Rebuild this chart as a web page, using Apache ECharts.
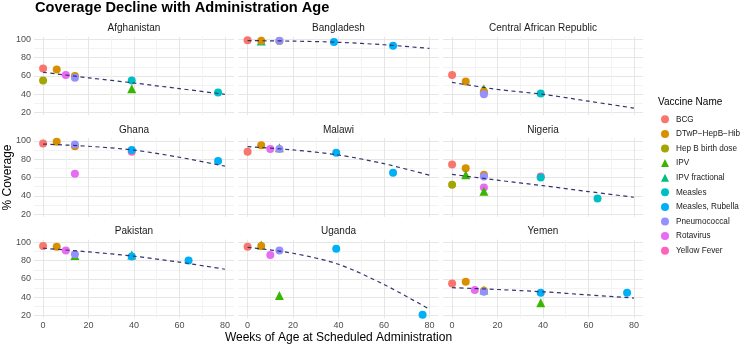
<!DOCTYPE html>
<html>
<head>
<meta charset="utf-8">
<script src="https://cdn.jsdelivr.net/npm/echarts@6/dist/echarts.min.js"></script>
<style>
html, body { margin: 0; padding: 0; background: #fff; }
#chart { width: 744px; height: 346px; }
</style>
</head>
<body>
<div id="chart"></div>
<script>
// facets
const countries = ['Afghanistan', 'Bangladesh', 'Central African Republic', 'Ghana', 'Malawi', 'Nigeria', 'Pakistan', 'Uganda', 'Yemen'];
const vaccines = ['BCG', 'DTwP−HepB−Hib', 'Hep B birth dose', 'IPV', 'IPV fractional', 'Measles', 'Measles, Rubella', 'Pneumococcal', 'Rotavirus', 'Yellow Fever'];
const vaccineColors = ['#F8766D', '#D89000', '#A3A500', '#39B600', '#00BF7D', '#00BFC4', '#00B0F6', '#9590FF', '#E76BF3', '#FF62BC'];
const xTicks = [0, 20, 40, 60, 80];
const yTicks = [20, 40, 60, 80, 100];
const xGrid = [0, 10, 20, 30, 40, 50, 60, 70, 80];
const yGrid = [20, 30, 40, 50, 60, 70, 80, 90, 100];
const trendWeeks = [0, 20, 40, 60, 80];

// [vaccine, weeks, % coverage]
const afghanistan = [
	['Hep B birth dose', 0, 55], ['BCG', 0, 68], ['DTwP−HepB−Hib', 6, 67], ['Rotavirus', 10, 61],
	['DTwP−HepB−Hib', 14, 60], ['Pneumococcal', 14, 58], ['IPV', 39, 46], ['Measles', 39, 55], ['Measles', 77, 42]
];
const bangladesh = [
	['BCG', 0, 99], ['IPV fractional', 6, 98], ['DTwP−HepB−Hib', 6, 98.5], ['DTwP−HepB−Hib', 14, 98],
	['Pneumococcal', 14, 98.5], ['Measles, Rubella', 38, 97], ['Measles, Rubella', 64, 93]
];
const car = [
	['BCG', 0, 61], ['DTwP−HepB−Hib', 6, 54], ['IPV', 14, 46], ['DTwP−HepB−Hib', 14, 43],
	['Pneumococcal', 14, 40], ['Measles', 39, 41]
];
const ghana = [
	['BCG', 0, 97], ['DTwP−HepB−Hib', 6, 99], ['DTwP−HepB−Hib', 14, 94], ['Pneumococcal', 14, 96],
	['Rotavirus', 14, 64], ['Yellow Fever', 39, 88], ['Measles, Rubella', 39, 90], ['Measles, Rubella', 77, 78]
];
const malawi = [
	['BCG', 0, 88], ['DTwP−HepB−Hib', 6, 95], ['Rotavirus', 10, 91], ['IPV', 14, 92.5],
	['Pneumococcal', 14, 91], ['Measles, Rubella', 39, 87], ['Measles, Rubella', 64, 65]
];
const nigeria = [
	['BCG', 0, 74], ['Hep B birth dose', 0, 52], ['DTwP−HepB−Hib', 6, 70], ['IPV', 6, 63],
	['DTwP−HepB−Hib', 14, 63], ['Pneumococcal', 14, 61], ['Rotavirus', 14, 49], ['IPV', 14, 45],
	['Yellow Fever', 39, 61], ['Measles', 39, 60], ['Measles', 64, 37]
];
const pakistan = [
	['BCG', 0, 96], ['DTwP−HepB−Hib', 6, 95], ['Rotavirus', 10, 91], ['IPV', 14, 85.5],
	['Pneumococcal', 14, 87], ['IPV', 39, 86], ['Measles, Rubella', 39, 84.5], ['Measles, Rubella', 64, 80]
];
const uganda = [
	['BCG', 0, 95], ['IPV', 6, 97], ['DTwP−HepB−Hib', 6, 96], ['Rotavirus', 10, 86],
	['Pneumococcal', 14, 91], ['IPV', 14, 42], ['Measles, Rubella', 39, 93], ['Measles, Rubella', 77, 21]
];
const yemen = [
	['BCG', 0, 55], ['DTwP−HepB−Hib', 6, 57], ['Rotavirus', 10, 48], ['IPV', 14, 48],
	['DTwP−HepB−Hib', 14, 47], ['Pneumococcal', 14, 46], ['IPV', 39, 34],
	['Measles, Rubella', 39, 45], ['Measles, Rubella', 77, 45]
];

// fitted trend read at trendWeeks
const trendAfghanistan = [64, 58, 52.3, 46.2, 40];
const trendBangladesh = [98.5, 98, 96.7, 94, 90];
const trendCar = [53, 45.3, 40, 32.5, 25];
const trendGhana = [96.4, 94, 89.8, 82, 72.3];
const trendMalawi = [93.5, 90, 84.5, 75, 62.5];
const trendNigeria = [63.4, 57, 51, 44.6, 38.4];
const trendPakistan = [93.5, 89.5, 84.8, 78.3, 70.6];
const trendUganda = [94.5, 88, 76, 54, 27];
const trendYemen = [50.5, 48.5, 46, 42.6, 39.2];

const allPoints = [afghanistan, bangladesh, car, ghana, malawi, nigeria, pakistan, uganda, yemen];
const allTrends = [trendAfghanistan, trendBangladesh, trendCar, trendGhana, trendMalawi, trendNigeria, trendPakistan, trendUganda, trendYemen];

// 面板布局
const colLeft = [34, 238.5, 443];
const rowTop = [36.6, 138.1, 239.6];
const panelW = 200;
const panelH = 78.7;
const font = 'Liberation Sans, Arial, sans-serif';

const grids = [], xAxes = [], yAxes = [], series = [], graphics = [];

countries.forEach((name, i) => {
	const col = i % 3;
	const row = Math.floor(i / 3);
	grids.push({ left: colLeft[col], top: rowTop[row], width: panelW, height: panelH });
	xAxes.push({
		gridIndex: i, type: 'value', min: -4, max: 84,
		axisLine: { show: false },
		axisTick: { show: false, customValues: xGrid },
		axisLabel: { show: row === 2, customValues: xTicks, color: '#4d4d4d', fontSize: 9, fontFamily: font, margin: 3 },
		splitLine: { show: true, lineStyle: { color: ['#e6e6e6', '#f3f3f3'], width: 1 } }
	});
	yAxes.push({
		gridIndex: i, type: 'value', min: 17.1, max: 102.9,
		axisLine: { show: false },
		axisTick: { show: false, customValues: yGrid },
		axisLabel: { show: col === 0, customValues: yTicks, color: '#4d4d4d', fontSize: 9, fontFamily: font, margin: 3 },
		splitLine: { show: true, lineStyle: { color: ['#e6e6e6', '#f3f3f3'], width: 1 } }
	});
	// 分面标题
	graphics.push({
		type: 'text', x: colLeft[col] + panelW / 2, y: rowTop[row] - 8,
		style: { text: name, fill: '#1a1a1a', font: '10px ' + font, textAlign: 'center', textVerticalAlign: 'middle' }
	});
	allPoints[i].forEach(p => {
		const k = vaccines.indexOf(p[0]);
		const tri = p[0].startsWith('IPV');
		series.push({
			type: 'scatter', name: p[0], xAxisIndex: i, yAxisIndex: i,
			symbol: tri ? 'triangle' : 'circle', symbolSize: tri ? 9 : 8,
			itemStyle: { color: vaccineColors[k], opacity: 1 },
			data: [[p[1], p[2]]], z: 2, silent: true
		});
	});
	series.push({
		type: 'line', xAxisIndex: i, yAxisIndex: i, smooth: 0.3, symbol: 'none',
		lineStyle: { color: '#33336e', width: 1.2, type: [4, 3.5] },
		data: trendWeeks.map((w, j) => [w, allTrends[i][j]]), z: 3, silent: true
	});
});

graphics.push(
	{ type: 'text', x: 35, y: 8, style: { text: 'Coverage Decline with Administration Age', fill: '#000', font: 'bold 14.6px ' + font, textVerticalAlign: 'middle' } },
	{ type: 'text', x: 338.5, y: 338, style: { text: 'Weeks of Age at Scheduled Administration', fill: '#000', font: '12px ' + font, textAlign: 'center', textVerticalAlign: 'middle' } },
	{ type: 'text', x: 7.5, y: 177.5, rotation: Math.PI / 2, style: { text: '% Coverage', fill: '#000', font: '12px ' + font, textAlign: 'center', textVerticalAlign: 'middle' } },
	{ type: 'text', x: 658, y: 102, style: { text: 'Vaccine Name', fill: '#000', font: '10px ' + font, textVerticalAlign: 'middle' } }
);

const chart = echarts.init(document.getElementById('chart'), null, { renderer: 'canvas' });
chart.setOption({
	animation: false,
	backgroundColor: '#fff',
	grid: grids,
	xAxis: xAxes,
	yAxis: yAxes,
	legend: {
		orient: 'vertical', left: 661, top: 115.3, padding: 0,
		itemWidth: 8, itemHeight: 8, itemGap: 6.6,
		selectedMode: false,
		textStyle: { color: '#1a1a1a', fontSize: 8.2, fontFamily: font, padding: [0, 0, 0, 2] },
		data: vaccines.map((v, k) => ({
			name: v, icon: v.startsWith('IPV') ? 'triangle' : 'circle',
			itemStyle: { color: vaccineColors[k] }
		}))
	},
	graphic: graphics,
	series: series
});
</script>
</body>
</html>
